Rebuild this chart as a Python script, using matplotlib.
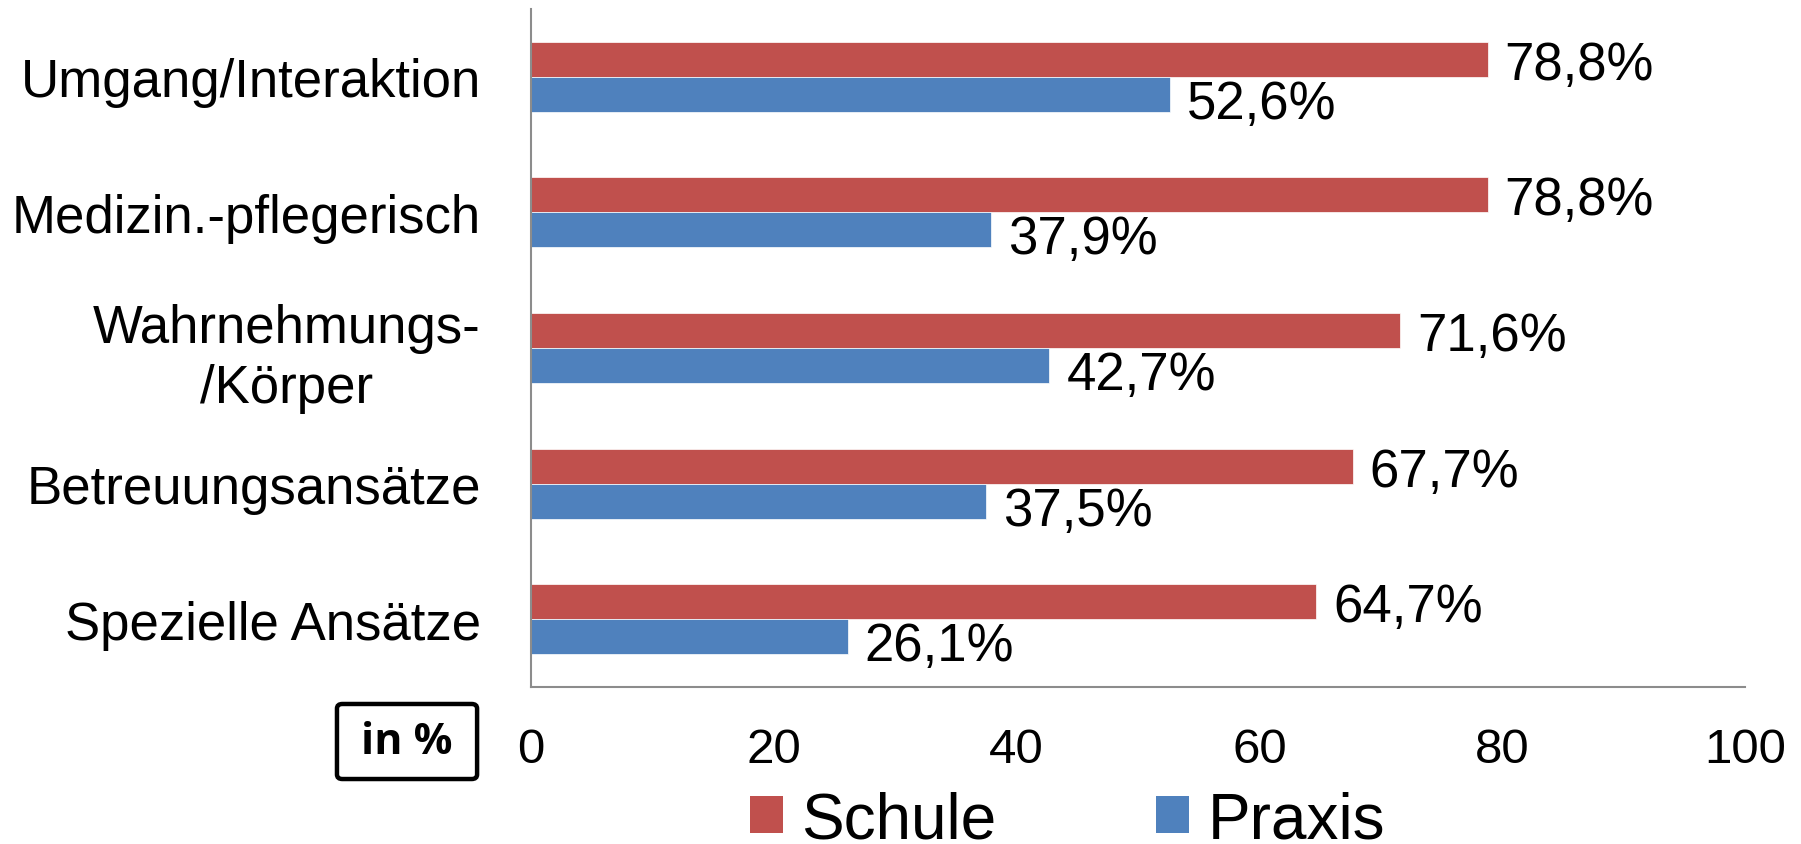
import matplotlib
matplotlib.use("Agg")
import matplotlib.pyplot as plt
import numpy as np
from matplotlib.patches import Patch, FancyBboxPatch

plt.rcParams['font.family'] = ['Liberation Sans', 'DejaVu Sans']

# categories from top to bottom, with shares in percent
categories = ['Umgang/Interaktion', 'Medizin.-pflegerisch', 'Wahrnehmungs-\n/Körper',
              'Betreuungsansätze', 'Spezielle Ansätze']
schule = [78.8, 78.8, 71.6, 67.7, 64.7]
praxis = [52.6, 37.9, 42.7, 37.5, 26.1]
xticks = [0, 20, 40, 60, 80, 100]

red = '#c0504d'
blue = '#4f81bd'

fig = plt.figure(figsize=(18.01, 8.45), dpi=100)
ax = fig.add_axes([0.2948, 0.1858, 0.6741, 0.8024])

y = np.arange(len(categories))
h = 0.258
ax.barh(y - h / 2, schule, height=h, color=red, edgecolor='white', linewidth=0.5)
ax.barh(y + h / 2, praxis, height=h, color=blue, edgecolor='white', linewidth=0.5)

# value labels next to each bar
for i in range(len(categories)):
    ax.text(schule[i] + 1.4, y[i] - h / 2 + 0.04, f"{schule[i]:.1f}%".replace('.', ','),
            va='center', ha='left', fontsize=38)
    ax.text(praxis[i] + 1.4, y[i] + h / 2 + 0.07, f"{praxis[i]:.1f}%".replace('.', ','),
            va='center', ha='left', fontsize=38)

ax.set_xlim(0, 100)
ax.set_ylim(len(categories) - 0.5, -0.5)
ax.set_yticks(y)
ax.set_yticklabels(categories, fontsize=38, multialignment='center', linespacing=1.25)
ax.set_xticks(xticks)
ax.set_xticklabels([str(t) for t in xticks], fontsize=35.5)
ax.tick_params(axis='both', length=0)
ax.tick_params(axis='y', pad=36)
ax.tick_params(axis='x', pad=29)

for s in ['top', 'right']:
    ax.spines[s].set_visible(False)
for s in ['left', 'bottom']:
    ax.spines[s].set_color('#8c8c8c')
    ax.spines[s].set_linewidth(1.5)

# unit box in the lower left corner
box = FancyBboxPatch((0.1871, 0.0769), 0.0778, 0.0888, transform=fig.transFigure,
                     boxstyle='round,pad=0,rounding_size=0.003', facecolor='white',
                     edgecolor='black', linewidth=3.2, mutation_aspect=1.8)
fig.patches.append(box)
fig.text(0.226, 0.121, 'in %', fontsize=31, fontweight='bold', family='Open Sans',
         ha='center', va='center')

handles = [Patch(facecolor=red, label='Schule'), Patch(facecolor=blue, label='Praxis')]
fig.legend(handles=handles, loc='center', bbox_to_anchor=(0.5927, 0.028), ncol=2,
           frameon=False, fontsize=46, handlelength=0.52, handleheight=0.52,
           handletextpad=0.28, columnspacing=2.5)

fig.savefig('out.png', dpi=100)
